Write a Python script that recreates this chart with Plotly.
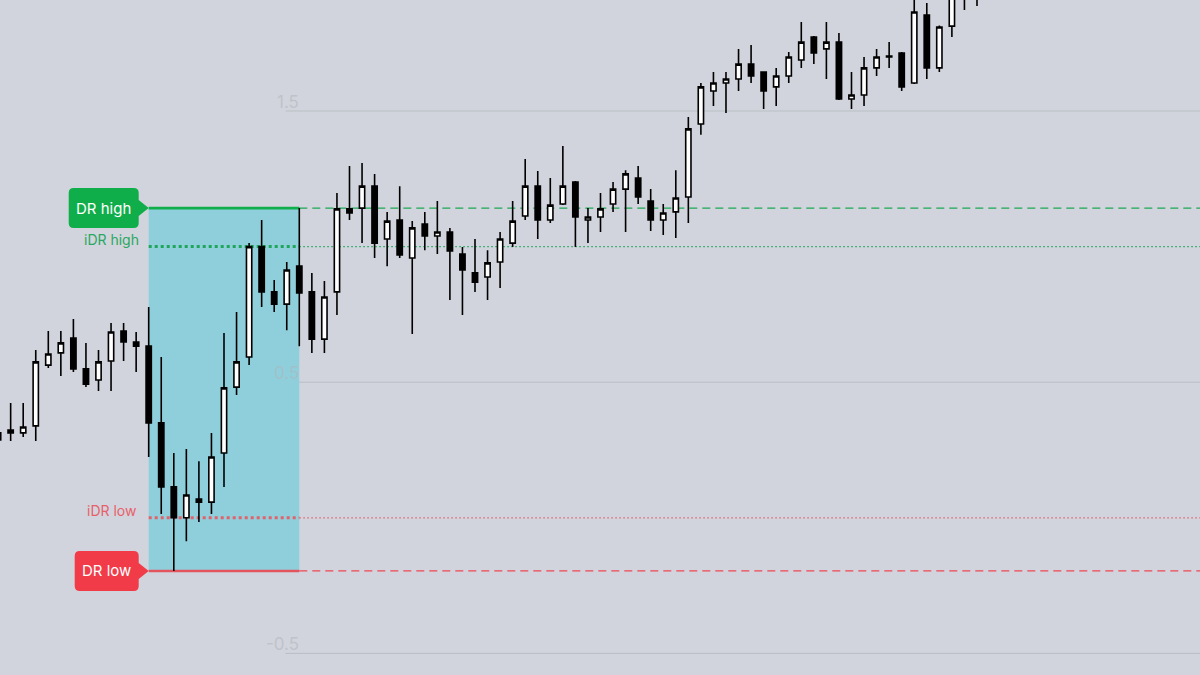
import plotly.graph_objects as go

# ---------------- data ----------------
bar_index = list(range(79))
opens = [0.287, 0.324, 0.313, 0.339, 0.563, 0.608, 0.663, 0.549, 0.508, 0.578,
         0.689, 0.648, 0.633, 0.350, 0.114, 0.000, 0.069, 0.058, 0.239, 0.482,
         0.593, 1.000, 0.833, 0.788, 0.928, 0.833, 0.659, 0.833, 1.139, 1.142,
         1.223, 1.028, 1.098, 0.958, 1.083, 1.039, 1.054, 0.973, 0.903, 0.888,
         0.943, 1.013, 1.113, 1.223, 1.098, 1.157, 1.238, 1.098, 1.109, 1.157,
         1.212, 1.253, 1.168, 1.098, 1.128, 1.183, 1.452, 1.574, 1.603, 1.618,
         1.673, 1.644, 1.589, 1.629, 1.688, 1.773, 1.729, 1.754, 1.544, 1.559,
         1.659, 1.703, 1.714, 1.603, 1.854, 1.659, 1.813, 1.950, 1.960]
highs = [0.324, 0.423, 0.423, 0.619, 0.689, 0.689, 0.733, 0.645, 0.619, 0.718,
         0.718, 0.685, 0.777, 0.593, 0.239, 0.254, 0.209, 0.313, 0.681, 0.759,
         1.013, 1.098, 0.877, 0.943, 1.142, 0.903, 0.873, 1.198, 1.297, 1.308,
         1.268, 1.128, 1.223, 1.094, 1.128, 1.168, 1.069, 0.999, 1.028, 0.987,
         1.054, 1.168, 1.323, 1.279, 1.253, 1.371, 1.242, 1.142, 1.198, 1.238,
         1.282, 1.297, 1.212, 1.157, 1.282, 1.478, 1.603, 1.644, 1.644, 1.729,
         1.743, 1.647, 1.659, 1.718, 1.828, 1.777, 1.828, 1.788, 1.644, 1.699,
         1.729, 1.754, 1.718, 1.917, 1.898, 1.815, 2.020, 2.060, 2.070]
lows = [0.280, 0.283, 0.298, 0.283, 0.552, 0.523, 0.538, 0.482, 0.468, 0.468,
        0.578, 0.538, 0.224, 0.014, -0.196, -0.086, -0.015, 0.014, 0.114, 0.453,
        0.563, 0.777, 0.759, 0.692, 0.633, 0.608, 0.608, 0.748, 1.098, 1.013,
        0.958, 0.928, 0.958, 0.678, 0.987, 0.973, 0.803, 0.748, 0.833, 0.803,
        0.847, 0.999, 1.098, 1.028, 1.087, 1.153, 0.999, 1.013, 1.054, 1.128,
        1.054, 1.157, 1.058, 1.043, 1.032, 1.087, 1.412, 1.518, 1.493, 1.574,
        1.603, 1.507, 1.518, 1.603, 1.659, 1.673, 1.618, 1.541, 1.507, 1.518,
        1.629, 1.659, 1.574, 1.600, 1.618, 1.644, 1.773, 1.872, 1.887]
closes = [0.313, 0.313, 0.335, 0.575, 0.604, 0.645, 0.549, 0.493, 0.575, 0.685,
          0.648, 0.633, 0.350, 0.114, 0.000, 0.084, 0.058, 0.224, 0.479, 0.575,
          1.000, 0.833, 0.788, 0.914, 0.829, 0.659, 0.814, 1.139, 1.124, 1.223,
          1.013, 1.094, 0.969, 1.069, 1.039, 1.054, 0.984, 0.914, 0.869, 0.940,
          1.028, 1.094, 1.223, 1.098, 1.153, 1.223, 1.109, 1.109, 1.139, 1.212,
          1.268, 1.183, 1.098, 1.124, 1.179, 1.434, 1.589, 1.603, 1.618, 1.673,
          1.629, 1.574, 1.629, 1.699, 1.754, 1.714, 1.754, 1.544, 1.559, 1.659,
          1.699, 1.699, 1.589, 1.865, 1.659, 1.810, 1.983, 2.000, 2.020]

session_start = 12   # first bar of the defining range
session_end = 24     # last bar of the defining range

tick_vals = [1.5, 0.5, -0.5]
tick_text = ["1.5", "0.5", "-0.5"]

# ---------------- derived levels ----------------
win = range(session_start, session_end + 1)
dr_high = max(highs[i] for i in win)
dr_low = min(lows[i] for i in win)
idr_high = max(max(opens[i], closes[i]) for i in win)
idr_low = min(min(opens[i], closes[i]) for i in win)

x_range = [0.151, 95.77]
y_range = [-0.5796, 1.9093]

BG = "#d1d4dc"
GREEN = "#10ae4a"
RED = "#f23b48"
RED_L = "#e8606a"
TEAL = "#8fcfdb"
FONT = "Inter, Roboto, sans-serif"

fig = go.Figure()
fig.add_trace(go.Candlestick(
    x=bar_index, open=opens, high=highs, low=lows, close=closes,
    increasing=dict(fillcolor="#ffffff", line=dict(color="#000000", width=1.6)),
    decreasing=dict(fillcolor="#000000", line=dict(color="#000000", width=1.6)),
    whiskerwidth=0, hoverinfo="skip", showlegend=False,
))

shapes = []
# range box
shapes.append(dict(type="rect", xref="x", yref="y", x0=session_start, x1=session_end,
                   y0=dr_low, y1=dr_high, fillcolor=TEAL, line=dict(width=0), layer="below"))
# faint level grid
for tv in tick_vals:
    shapes.append(dict(type="line", xref="paper", yref="y", x0=0.238, x1=1, y0=tv, y1=tv,
                       line=dict(color="rgba(168,171,178,0.55)", width=1), layer="below"))
# DR high / low
for lvl, col, dcol in [(dr_high, GREEN, "#1da853"), (dr_low, "#e4545e", "#ef4753")]:
    shapes.append(dict(type="line", xref="x", yref="y", x0=session_start, x1=session_end,
                       y0=lvl, y1=lvl, line=dict(color=col, width=2.6), layer="below"))
    shapes.append(dict(type="line", xref="x", yref="y", x0=session_end, x1=x_range[1],
                       y0=lvl, y1=lvl, line=dict(color=dcol, width=1.2, dash="8px,5px"),
                       layer="below"))
# iDR high / low
for lvl, col in [(idr_high, "#1fa65a"), (idr_low, "#e2626b")]:
    shapes.append(dict(type="line", xref="x", yref="y", x0=session_start, x1=session_end,
                       y0=lvl, y1=lvl, line=dict(color=col, width=3, dash="3px,3px"),
                       layer="below"))
    shapes.append(dict(type="line", xref="x", yref="y", x0=session_end, x1=x_range[1],
                       y0=lvl, y1=lvl, line=dict(color=col, width=1.2, dash="1.5px,2.5px"),
                       layer="below"))


def tag_path(left, right=-10, half=20, r=5, arrow=8):
    return (f"M {left + r},{half} L {right - r},{half} Q {right},{half} {right},{half - r} "
            f"L {right},{arrow} L 0,0 L {right},{-arrow} L {right},{-half + r} "
            f"Q {right},{-half} {right - r},{-half} L {left + r},{-half} "
            f"Q {left},{-half} {left},{-half + r} L {left},{half - r} "
            f"Q {left},{half} {left + r},{half} Z")


annotations = []
for lvl, col, txt, left in [(dr_high, GREEN, "DR high", -80), (dr_low, RED, "DR low", -74)]:
    shapes.append(dict(type="path", xref="x", yref="y", xsizemode="pixel", ysizemode="pixel",
                       xanchor=session_start, yanchor=lvl, path=tag_path(left),
                       fillcolor=col, line=dict(width=0), layer="above"))
    annotations.append(dict(x=session_start, y=lvl, xref="x", yref="y", text=txt,
                            showarrow=False, xanchor="center", yanchor="middle",
                            xshift=(left - 10) / 2, yshift=0,
                            font=dict(family=FONT, size=15, color="#ffffff")))
for lvl, col, txt in [(idr_high, "#2aa860", "iDR high"), (idr_low, RED_L, "iDR low")]:
    annotations.append(dict(x=session_start, y=lvl, xref="x", yref="y", text=txt,
                            showarrow=False, xanchor="center", yanchor="middle",
                            xshift=-37, yshift=7,
                            font=dict(family=FONT, size=14, color=col)))
for tv, tt in zip(tick_vals, tick_text):
    annotations.append(dict(x=0.251, y=tv, xref="paper", yref="y", text=tt,
                            showarrow=False, xanchor="right", yanchor="middle", yshift=9,
                            font=dict(family=FONT, size=17, color="rgba(176,179,186,0.55)")))

fig.update_layout(
    width=1200, height=675, autosize=False,
    margin=dict(l=0, r=0, t=0, b=0, pad=0),
    paper_bgcolor=BG, plot_bgcolor=BG,
    boxgap=0.40,
    showlegend=False,
    shapes=shapes, annotations=annotations,
    xaxis=dict(range=x_range, visible=False, showgrid=False, zeroline=False,
               rangeslider=dict(visible=False), fixedrange=True),
    yaxis=dict(range=y_range, visible=False, showgrid=False, zeroline=False, fixedrange=True),
    hovermode=False,
)

fig.write_html("out.html", config={"displayModeBar": False},
               post_script="document.body.style.margin='0';")
